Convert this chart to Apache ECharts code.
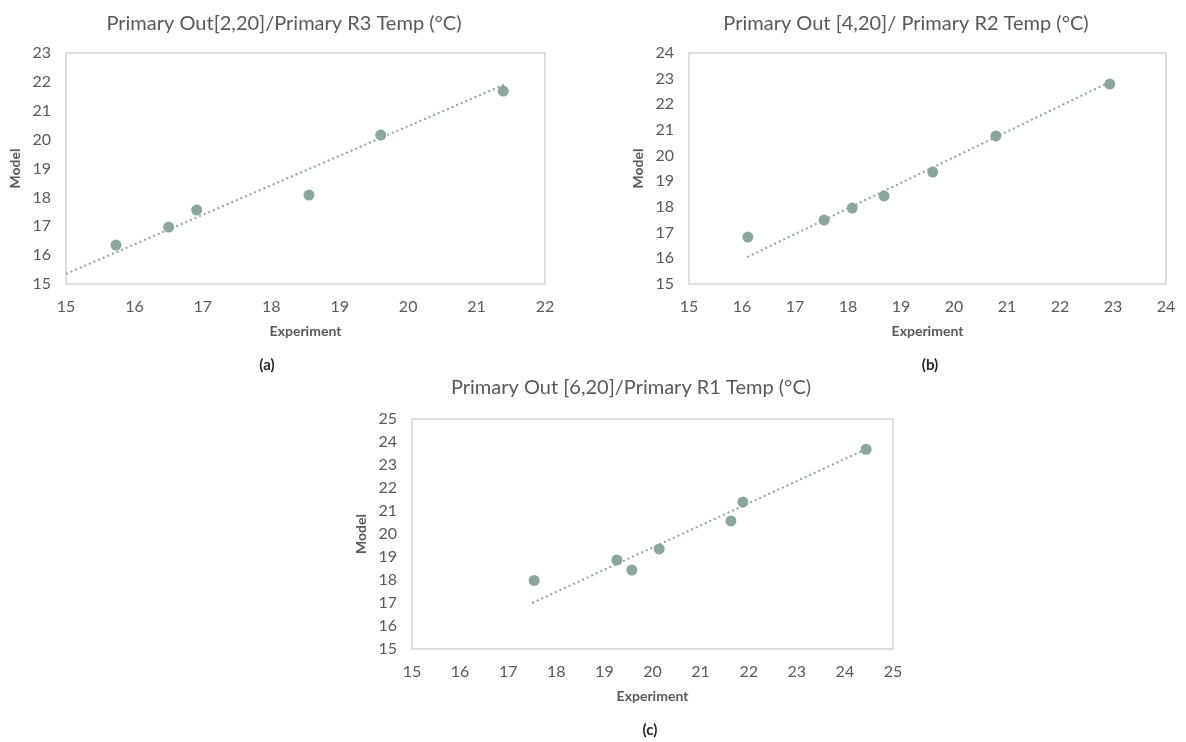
<!DOCTYPE html>
<html>
<head>
<meta charset="utf-8">
<script src="https://cdn.jsdelivr.net/npm/echarts@6/dist/echarts.min.js"></script>
<style>
html,body{margin:0;padding:0;background:#fff;}
#chart{width:1186px;height:742px;}
</style>
</head>
<body>
<div id="chart"></div>
<script>
// ---- Data ----
const titles = ['Primary Out[2,20]/Primary R3 Temp (°C)', 'Primary Out [4,20]/ Primary R2 Temp (°C)', 'Primary Out [6,20]/Primary R1 Temp (°C)'];
const panelLabels = ['(a)', '(b)', '(c)'];
const xName = 'Experiment';
const yName = 'Model';

// (a)
const expA = [15.73, 16.5, 16.91, 18.55, 19.6, 21.39];
const modA = [16.35, 16.97, 17.56, 18.08, 20.16, 21.68];
const trendXA = [15, 21.4];
const trendYA = [15.35, 21.9];
const rangeA = {xmin: 15, xmax: 22, ymin: 15, ymax: 23};

// (b)
const expB = [16.11, 17.55, 18.08, 18.68, 19.6, 20.79, 22.94];
const modB = [16.83, 17.49, 17.96, 18.43, 19.36, 20.77, 22.79];
const trendXB = [16.1, 22.94];
const trendYB = [16.05, 22.87];
const rangeB = {xmin: 15, xmax: 24, ymin: 15, ymax: 24};

// (c)
const expC = [17.54, 19.26, 19.57, 20.14, 21.63, 21.88, 24.44];
const modC = [17.98, 18.87, 18.43, 19.35, 20.57, 21.39, 23.68];
const trendXC = [17.5, 24.4];
const trendYC = [17.0, 23.65];
const rangeC = {xmin: 15, xmax: 25, ymin: 15, ymax: 25};

// ---- Styling ----
const FONT = 'Lato, "Open Sans", sans-serif';
const TEXT = '#595959';
const MARK = '#8ba79b';

const grids = [
  {left: 66, top: 53, width: 479, height: 231},
  {left: 689, top: 53, width: 477, height: 231},
  {left: 412, top: 419, width: 481, height: 230}
];
const ranges = [rangeA, rangeB, rangeC];
const pts = [[expA, modA], [expB, modB], [expC, modC]];
const trends = [[trendXA, trendYA], [trendXB, trendYB], [trendXC, trendYC]];
const titlePos = [[279, 9], [901, 9], [626, 373]];
const labelPos = [[262, 353], [925, 353], [645, 718]];

const zip = (a, b) => a.map((v, i) => [v, b[i]]);

const option = {
  backgroundColor: '#fff',
  animation: false,
  textStyle: {fontFamily: FONT},
  title: [
    ...titles.map((t, i) => ({
      text: t, left: titlePos[i][0], top: titlePos[i][1], textAlign: 'center',
      textStyle: {fontFamily: FONT, fontSize: 20, fontWeight: 'normal', color: TEXT}
    })),
    ...panelLabels.map((t, i) => ({
      text: t, left: labelPos[i][0], top: labelPos[i][1], textAlign: 'center',
      textStyle: {fontFamily: FONT, fontSize: 15, fontWeight: 'bold', color: '#262626'}
    }))
  ],
  grid: grids.map(g => Object.assign({show: true, borderColor: '#d4d4d4', borderWidth: 1.5, backgroundColor: 'transparent'}, g)),
  xAxis: ranges.map((r, i) => ({
    type: 'value', gridIndex: i, min: r.xmin, max: r.xmax, interval: 1,
    name: xName, nameLocation: 'middle', nameGap: 40,
    nameTextStyle: {fontFamily: FONT, fontSize: 14, fontWeight: 'bold', color: TEXT},
    axisLine: {show: false}, axisTick: {show: false}, splitLine: {show: false},
    axisLabel: {fontFamily: FONT, fontSize: 16, color: TEXT, margin: 15}
  })),
  yAxis: ranges.map((r, i) => ({
    type: 'value', gridIndex: i, min: r.ymin, max: r.ymax, interval: 1,
    name: yName, nameLocation: 'middle', nameGap: 44,
    nameTextStyle: {fontFamily: FONT, fontSize: 14, fontWeight: 'bold', color: TEXT},
    axisLine: {show: false}, axisTick: {show: false}, splitLine: {show: false},
    axisLabel: {fontFamily: FONT, fontSize: 16, color: TEXT, margin: 15}
  })),
  series: [
    ...trends.map((t, i) => ({
      type: 'line', xAxisIndex: i, yAxisIndex: i,
      data: zip(t[0], t[1]), showSymbol: false, symbol: 'none',
      lineStyle: {color: MARK, width: 2, type: [2, 3]}, silent: true, z: 1
    })),
    ...pts.map((p, i) => ({
      type: 'scatter', xAxisIndex: i, yAxisIndex: i,
      data: zip(p[0], p[1]), symbolSize: 11,
      itemStyle: {color: MARK, opacity: 1}, z: 2
    }))
  ]
};

const chart = echarts.init(document.getElementById('chart'), null, {renderer: 'canvas'});
chart.setOption(option);
</script>
</body>
</html>
